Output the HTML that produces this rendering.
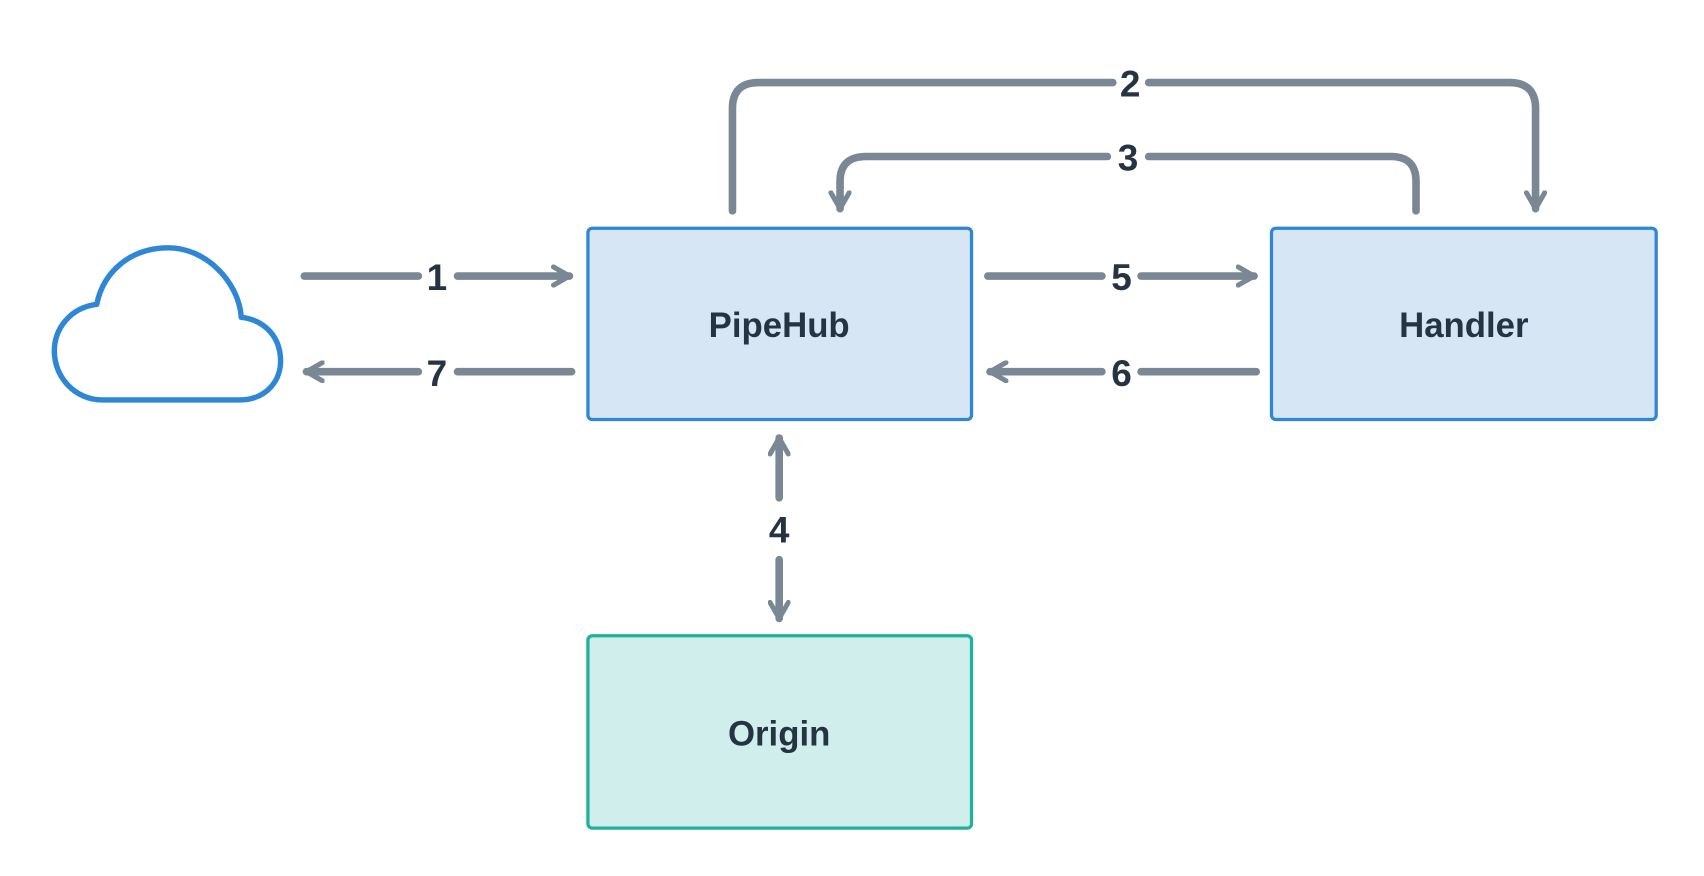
<!DOCTYPE html>
<html><head><style>html,body{margin:0;padding:0;background:#fff}svg{display:block}</style></head><body>
<svg width="1704" height="876" viewBox="0 0 1568 806" preserveAspectRatio="none" xmlns="http://www.w3.org/2000/svg">
<defs>
<marker id="a" viewBox="0 0 10 10" refX="8" refY="5" markerWidth="3" markerHeight="3" orient="auto-start-reverse" markerUnits="strokeWidth">
<path d="M1,1 L8,5 L1,9" fill="none" stroke="#7a8794" stroke-width="2.2" stroke-linecap="round" stroke-linejoin="round"/>
</marker>
</defs>
<g fill="none" stroke="#7a8794" stroke-width="7" stroke-linecap="round" stroke-linejoin="round">
<line x1="280" y1="254" x2="385" y2="254"/>
<line x1="421" y1="254" x2="524" y2="254" marker-end="url(#a)"/>
<line x1="385" y1="342" x2="282" y2="342" marker-end="url(#a)"/>
<line x1="421" y1="342" x2="526" y2="342"/>
<line x1="909" y1="254" x2="1014" y2="254"/>
<line x1="1050" y1="254" x2="1154" y2="254" marker-end="url(#a)"/>
<line x1="1014" y1="342" x2="911" y2="342" marker-end="url(#a)"/>
<line x1="1050" y1="342" x2="1156" y2="342"/>
<path d="M674,194 L674,100 Q674,76 698,76 L1024,76"/>
<path d="M1057,76 L1389,76 Q1413,76 1413,100 L1413,192" marker-end="url(#a)"/>
<path d="M1303,194 L1303,167 Q1303,144 1280,144 L1057,144"/>
<path d="M1019,144 L797,144 Q773,144 773,167 L773,192" marker-end="url(#a)"/>
<line x1="717" y1="458" x2="717" y2="403" marker-end="url(#a)"/>
<line x1="717" y1="515" x2="717" y2="569" marker-end="url(#a)"/>
</g>
<rect x="541" y="210" width="353" height="176" rx="4" fill="#d6e6f5" stroke="#2e86d6" stroke-width="3"/>
<rect x="1170" y="210" width="354" height="176" rx="4" fill="#d6e6f5" stroke="#2e86d6" stroke-width="3"/>
<rect x="541" y="585" width="353" height="177" rx="4" fill="#d0eeec" stroke="#20b09c" stroke-width="3"/>
<path d="M94,368 L220,368 C245,368 260,350 258,328 C256,306 240,294 222,292 C220,260 190,228 155,228 C120,228 95,250 89,280 C65,283 50,302 50,323 C50,348 70,368 94,368 Z" fill="#fff" stroke="#2e86d6" stroke-width="5" stroke-linejoin="round"/>
<g font-family="Liberation Sans, sans-serif" font-weight="bold" fill="#253342" text-anchor="middle">
<text x="717" y="310" font-size="32">PipeHub</text>
<text x="1347" y="310" font-size="32">Handler</text>
<text x="717" y="686" font-size="32">Origin</text>
<g font-size="34">
<text x="402" y="267">1</text>
<text x="1040" y="89">2</text>
<text x="1038" y="157">3</text>
<text x="717" y="499">4</text>
<text x="1032" y="267">5</text>
<text x="1032" y="355">6</text>
<text x="402" y="355">7</text>
</g>
</g>
</svg>
</body></html>
